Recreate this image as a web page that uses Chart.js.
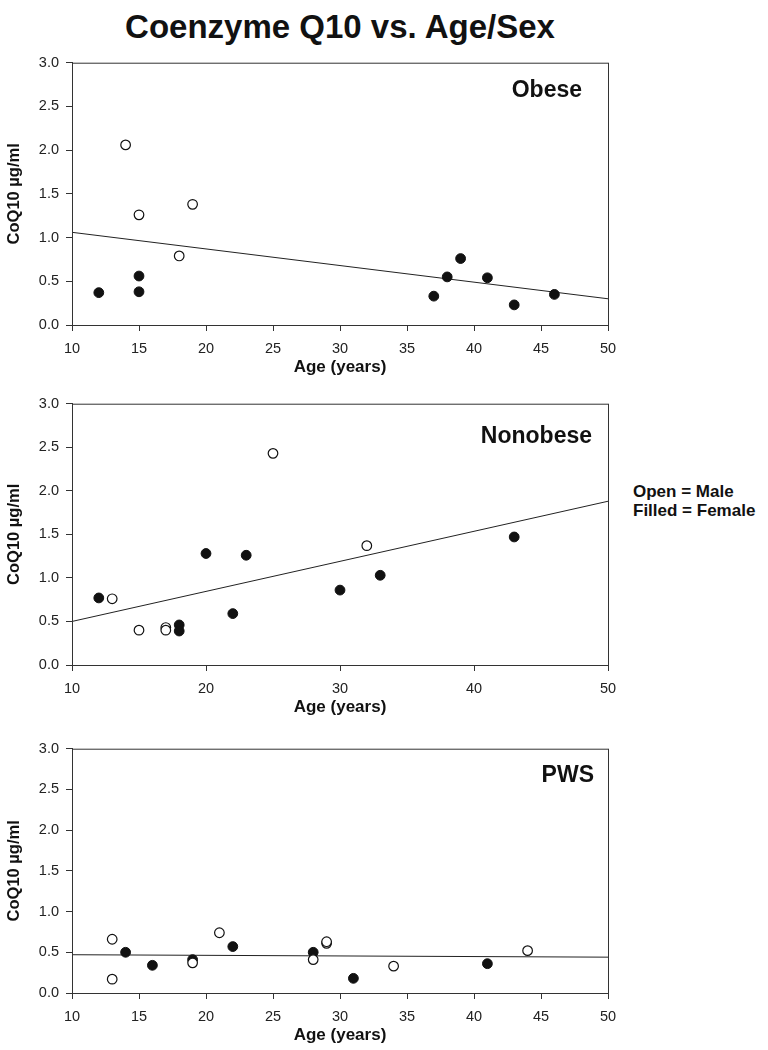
<!DOCTYPE html>
<html>
<head>
<meta charset="utf-8">
<script src="https://cdn.jsdelivr.net/npm/chart.js@4.4.1/dist/chart.umd.min.js"></script>
<style>
  body { margin: 0; background: #fff; width: 768px; height: 1050px; position: relative; overflow: hidden;
         font-family: "Liberation Sans", Arial, sans-serif; color: #111; }
  .panel { position: absolute; left: 0; }
  #title { position: absolute; left: 0; top: 7px; width: 680px; text-align: center;
           font-weight: bold; font-size: 33px; line-height: 40px; }
  #key { position: absolute; left: 633px; top: 482px; font-weight: bold; font-size: 17px; line-height: 19px; }
</style>
</head>
<body>
<div id="title">Coenzyme Q10 vs. Age/Sex</div>
<div id="key">Open = Male<br>Filled = Female</div>
<canvas id="obese" class="panel" width="768" height="331" style="top:47px"></canvas>
<canvas id="nonobese" class="panel" width="768" height="330" style="top:388px"></canvas>
<canvas id="pws" class="panel" width="768" height="313" style="top:733px"></canvas>
<script>
// values: age in years, CoQ10 in ug/ml
const obeseMaleAge = [14, 15, 18, 19];
const obeseMaleQ10 = [2.06, 1.26, 0.79, 1.38];
const obeseFemaleAge = [12, 15, 15, 37, 38, 39, 41, 43, 46];
const obeseFemaleQ10 = [0.37, 0.56, 0.38, 0.33, 0.55, 0.76, 0.54, 0.23, 0.35];
const obeseFit = [1.06, 0.30];

const nonobeseMaleAge = [13, 15, 17, 17, 25, 32];
const nonobeseMaleQ10 = [0.76, 0.40, 0.43, 0.40, 2.43, 1.37];
const nonobeseFemaleAge = [12, 18, 18, 20, 22, 23, 30, 33, 43];
const nonobeseFemaleQ10 = [0.77, 0.46, 0.39, 1.28, 0.59, 1.26, 0.86, 1.03, 1.47];
const nonobeseFit = [0.50, 1.88];

const pwsMaleAge = [13, 13, 19, 21, 28, 29, 29, 34, 44];
const pwsMaleQ10 = [0.66, 0.17, 0.37, 0.74, 0.41, 0.61, 0.63, 0.33, 0.52];
const pwsFemaleAge = [14, 16, 19, 22, 28, 31, 41];
const pwsFemaleQ10 = [0.50, 0.34, 0.41, 0.57, 0.50, 0.18, 0.36];
const pwsFit = [0.47, 0.44];

const fitAges = [10, 50];
const ageMin = 10, ageMax = 50;
const q10Min = 0, q10Max = 3;

const ink = '#111';
const axisInk = '#333';
const fam = '"Liberation Sans", Arial, sans-serif';

const pts = (xs, ys) => xs.map((x, i) => ({x: x, y: ys[i]}));

// box around plot area + group name in the corner
const framePlugin = {
  id: 'frame',
  afterDraw(chart, args, opts) {
    const {ctx, chartArea: a} = chart;
    ctx.save();
    ctx.strokeStyle = axisInk;
    ctx.lineWidth = 1;
    ctx.strokeRect(a.left + 0.5, a.top + 0.5, a.right - a.left, a.bottom - a.top);
    ctx.fillStyle = ink;
    ctx.font = 'bold 23px ' + fam;
    ctx.textAlign = 'right';
    ctx.textBaseline = 'middle';
    ctx.fillText(opts.label, a.right - opts.dx, a.top + opts.dy);
    ctx.restore();
  }
};

function makePanel(id, label, dx, dy, maleAge, maleQ10, femaleAge, femaleQ10, fit, step) {
  const canvas = document.getElementById(id);
  new Chart(canvas, {
    type: 'scatter',
    data: {
      datasets: [
        {
          label: 'Male',
          data: pts(maleAge, maleQ10),
          pointRadius: 4.8,
          pointBackgroundColor: '#fff',
          pointBorderColor: ink,
          pointBorderWidth: 1.2
        },
        {
          label: 'Female',
          data: pts(femaleAge, femaleQ10),
          pointRadius: 4.9,
          pointBackgroundColor: ink,
          pointBorderColor: ink,
          pointBorderWidth: 1
        },
        {
          type: 'line',
          label: 'Fit',
          data: pts(fitAges, fit),
          borderColor: '#222',
          borderWidth: 1,
          pointRadius: 0,
          fill: false
        }
      ]
    },
    options: {
      responsive: false,
      animation: false,
      layout: {padding: {left: 0, right: 160, top: 10, bottom: 0}},
      plugins: {
        legend: {display: false},
        tooltip: {enabled: false},
        frame: {label: label, dx: dx, dy: dy}
      },
      scales: {
        x: {
          type: 'linear',
          min: ageMin,
          max: ageMax,
          afterFit: s => { s.height = 53; },
          ticks: {stepSize: step, color: '#222', padding: 9, font: {family: fam, size: 14.5}},
          grid: {display: true, drawOnChartArea: false, drawTicks: true, tickLength: 6, color: axisInk},
          border: {color: axisInk},
          title: {display: true, text: 'Age (years)', color: ink, padding: {top: 0, bottom: 0},
                  font: {family: fam, size: 17, weight: 'bold'}}
        },
        y: {
          min: q10Min,
          max: q10Max,
          afterFit: s => { s.width = 72; },
          ticks: {stepSize: 0.5, color: '#222', padding: 7,
                  callback: v => v.toFixed(1), font: {family: fam, size: 14.5}},
          grid: {display: true, drawOnChartArea: false, drawTicks: true, tickLength: 6, color: axisInk},
          border: {color: axisInk},
          title: {display: true, text: 'CoQ10 \u00b5g/ml', color: ink, padding: {top: 5, bottom: 0},
                  font: {family: fam, size: 16.5, weight: 'bold'}}
        }
      }
    },
    plugins: [framePlugin]
  });
}

makePanel('obese', 'Obese', 26, 28, obeseMaleAge, obeseMaleQ10, obeseFemaleAge, obeseFemaleQ10, obeseFit, 5);
makePanel('nonobese', 'Nonobese', 16, 33, nonobeseMaleAge, nonobeseMaleQ10, nonobeseFemaleAge, nonobeseFemaleQ10, nonobeseFit, 10);
makePanel('pws', 'PWS', 14, 27, pwsMaleAge, pwsMaleQ10, pwsFemaleAge, pwsFemaleQ10, pwsFit, 5);
</script>
</body>
</html>
